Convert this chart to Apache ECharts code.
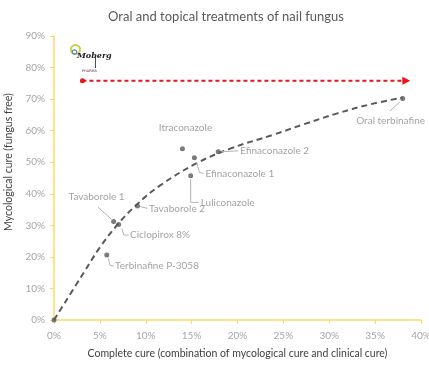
<!DOCTYPE html>
<html><head><meta charset="utf-8">
<script src="https://cdn.jsdelivr.net/npm/echarts@6/dist/echarts.min.js"></script>
<style>html,body{margin:0;padding:0;background:#fff}#c{width:429px;height:367px}</style>
</head><body><div id="c"></div>
<script>
// ---- data ----
const treatments = ['Itraconazole','Efinaconazole 1','Efinaconazole 2','Luliconazole','Tavaborole 2','Tavaborole 1','Ciclopirox 8%','Terbinafine P-3058','Oral terbinafine'];
const completeCure = [14.0, 15.3, 17.9, 14.9, 9.1, 6.5, 7.05, 5.75, 38.0];      // % (x)
const mycologicalCure = [54.3, 51.4, 53.3, 45.7, 36.1, 31.2, 30.3, 20.6, 70.2]; // % (y)
const trendX = [0, 3.2, 5, 7, 9, 11.5, 15.5, 19.2, 24, 27.2, 30.8, 34.4, 38];
const trendY = [0, 14.8, 23, 30.5, 36.5, 42.5, 49.6, 54.3, 58.8, 62, 65.4, 68.3, 70.5];
const targetX = [3.1, 38.4];
const targetY = [75.8, 75.8];
const originPoint = [0, 0];

// ---- label placement (style: offsets from the point, in px) ----
const FONT = "Lato, 'Open Sans', sans-serif";
const labelPlace = {
  'Itraconazole':       {d:[3,-20.6], align:'center', line:null},
  'Efinaconazole 1':    {d:[11,15.6], align:'left',   line:[[2,4],[5,14.6],[9,15.6]]},
  'Efinaconazole 2':    {d:[22,-1],   align:'left',   line:[[3,0],[20,-1]]},
  'Luliconazole':       {d:[10,26.6], align:'left',   line:[[0,3.5],[0,26.6],[8,26.6]]},
  'Tavaborole 2':       {d:[11.5,2.3],align:'left',   line:[[3,0.5],[10,2.3]]},
  'Tavaborole 1':       {d:[-17,-25], align:'center', line:[[-15.7,-14.4],[-2.3,-2.4]]},
  'Ciclopirox 8%':      {d:[11.3,10.7],align:'left',  line:[[3,4],[5.3,10.7],[10,10.7]]},
  'Terbinafine P-3058': {d:[8.3,11],  align:'left',   line:[[1.6,3.3],[3.3,10.5],[7,11]]},
  'Oral terbinafine':   {d:[-12,22.4],align:'center', line:[[-2.7,3.4],[-12.7,12.5]]}
};

const pointData = treatments.map((n, i) => ({name: n, value: [completeCure[i], mycologicalCure[i]]}));

const chart = echarts.init(document.getElementById('c'), null, {renderer:'canvas'});
chart.setOption({
  animation: false,
  backgroundColor: '#fff',
  title: {
    text: 'Oral and topical treatments of nail fungus',
    left: 221, top: 5, textAlign: 'center',
    textStyle: {fontFamily: FONT, fontSize: 13, fontWeight: 'normal', color: '#595959'}
  },
  grid: {left: 54, right: 8, top: 36, bottom: 47, containLabel: false, outerBoundsMode: 'none'},
  xAxis: {
    type: 'value', min: 0, max: 40, interval: 5,
    name: 'Complete cure (combination of mycological cure and clinical cure)',
    nameLocation: 'middle', nameGap: 28,
    nameTextStyle: {fontFamily: FONT, fontSize: 10.5, color: '#404040'},
    axisLine: {show: true, lineStyle: {color: '#FFD966', width: 1.5}},
    axisTick: {show: true, length: 4, lineStyle: {color: '#FFD966'}},
    axisLabel: {formatter: '{value}%', fontFamily: FONT, fontSize: 10, color: '#a6a6a6', margin: 11},
    splitLine: {show: false}
  },
  yAxis: {
    type: 'value', min: 0, max: 90, interval: 10,
    name: 'Mycological cure (fungus free)',
    nameLocation: 'middle', nameGap: 31, nameRotate: 90,
    nameTextStyle: {fontFamily: FONT, fontSize: 10.5, color: '#404040', padding: [0, 0, 0, 32]},
    axisLine: {show: true, lineStyle: {color: '#FFD966', width: 1.5}},
    axisTick: {show: true, length: 4, lineStyle: {color: '#FFD966'}},
    axisLabel: {formatter: '{value}%', fontFamily: FONT, fontSize: 10, color: '#a6a6a6', margin: 9},
    splitLine: {show: false}
  },
  graphic: [
    {type:'circle', shape:{cx:75.5, cy:49.5, r:4.5}, style:{fill:'none', stroke:'#c8d24a', lineWidth:2}},
    {type:'circle', shape:{cx:74.5, cy:52, r:2.2}, style:{fill:'none', stroke:'#5a8fb0', lineWidth:1.2}},
    {type:'text', style:{text:'Moberg', x:77, y:52, fontFamily:'DejaVu Serif', fontStyle:'italic', fontWeight:'bold', fontSize:8, fill:'#222'}},
    {type:'rect', shape:{x:95, y:57, width:0.8, height:11}, style:{fill:'#222'}},
    {type:'text', style:{text:'PHARMA', x:82, y:69.5, fontFamily:'DejaVu Sans', fontSize:3.5, fill:'#333'}}
  ],
  series: [
    {
      type: 'line', name: 'trend',
      data: trendX.map((x, i) => [x, trendY[i]]),
      smooth: 0.4, symbol: 'none',
      lineStyle: {color: '#595959', width: 2, type: [6, 4]},
      z: 2
    },
    {
      type: 'line', name: 'target',
      data: [
        {value: [targetX[0], targetY[0]], symbol: 'circle', symbolSize: 5},
        {value: [targetX[1], targetY[1]], symbol: 'triangle', symbolSize: [8, 8], symbolRotate: -90}
      ],
      lineStyle: {color: '#e8151b', width: 2, type: [4, 3]},
      itemStyle: {color: '#e8151b'},
      z: 3
    },
    {
      type: 'custom', name: 'leaders',
      data: pointData,
      renderItem: function (params, api) {
        const p = labelPlace[treatments[params.dataIndex]];
        const c = api.coord([api.value(0), api.value(1)]);
        if (!p.line) return {type: 'group', children: []};
        return {
          type: 'polyline',
          shape: {points: p.line.map(q => [c[0] + q[0], c[1] + q[1]])},
          style: {stroke: '#b3b3b3', lineWidth: 1, fill: null}
        };
      },
      silent: true, z: 3
    },
    {
      type: 'scatter', name: 'origin',
      data: [originPoint], symbolSize: 5,
      itemStyle: {color: '#595959'}, z: 4
    },
    {
      type: 'scatter', name: 'treatments',
      data: pointData, symbolSize: 5,
      itemStyle: {color: '#595959'},
      label: {
        show: true, formatter: '{b}', position: 'inside',
        fontFamily: FONT, fontSize: 10, color: '#8c8c8c'
      },
      labelLine: {show: false},
      labelLayout: function (params) {
        const p = labelPlace[treatments[params.dataIndex]];
        const cx = params.rect.x + params.rect.width / 2;
        const cy = params.rect.y + params.rect.height / 2;
        return {x: cx + p.d[0], y: cy + p.d[1], align: p.align, verticalAlign: 'middle'};
      },
      z: 5
    }
  ]
});
</script>
</body></html>
